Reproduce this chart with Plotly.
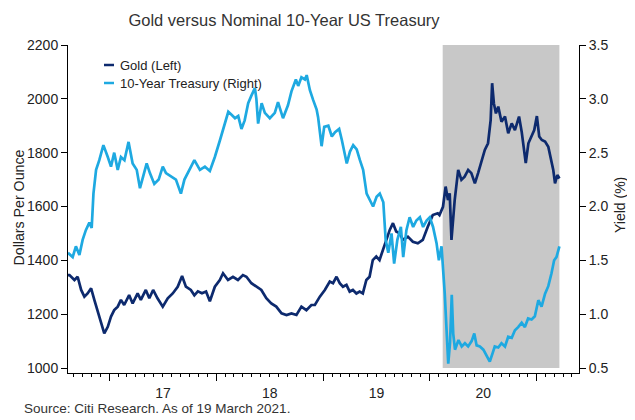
import plotly.graph_objects as go

# ---------------- data ----------------
gold_dates = [
    "2016-08-12", "2016-08-17", "2016-09-03", "2016-09-14", "2016-09-26", "2016-10-07", "2016-10-18",
    "2016-10-30", "2016-11-10", "2016-11-21", "2016-12-03", "2016-12-14", "2016-12-26",
    "2017-01-06", "2017-01-17", "2017-01-29", "2017-02-09", "2017-02-20", "2017-03-09", "2017-03-21",
    "2017-04-07", "2017-04-18", "2017-05-05", "2017-05-17", "2017-05-30", "2017-06-14", "2017-07-02",
    "2017-07-19", "2017-08-05", "2017-08-22", "2017-09-06", "2017-09-19", "2017-10-06", "2017-10-18",
    "2017-10-30", "2017-11-13", "2017-11-27", "2017-12-10", "2017-12-27",
    "2018-01-13", "2018-01-24", "2018-02-10", "2018-02-27", "2018-03-16", "2018-04-02", "2018-04-14",
    "2018-05-01", "2018-05-18", "2018-06-04", "2018-06-21", "2018-07-08", "2018-07-25", "2018-08-12",
    "2018-08-29", "2018-09-15", "2018-10-02", "2018-10-19", "2018-11-05", "2018-11-22", "2018-12-04",
    "2018-12-21",
    "2019-01-07", "2019-01-24", "2019-02-04", "2019-02-16", "2019-02-27", "2019-03-10", "2019-03-22",
    "2019-04-02", "2019-04-13", "2019-04-25", "2019-05-06", "2019-05-17", "2019-05-29", "2019-06-09",
    "2019-06-20", "2019-07-02", "2019-07-13", "2019-07-25", "2019-08-05", "2019-08-17", "2019-08-28",
    "2019-09-08", "2019-09-20", "2019-10-01", "2019-10-18", "2019-11-04", "2019-11-21", "2019-12-08",
    "2019-12-25",
    "2020-01-11", "2020-01-28", "2020-02-03", "2020-02-15", "2020-02-24", "2020-03-03", "2020-03-09",
    "2020-03-15", "2020-03-20", "2020-03-26", "2020-04-07", "2020-04-18", "2020-04-29", "2020-05-11",
    "2020-05-22", "2020-06-03", "2020-06-14", "2020-06-26", "2020-07-07", "2020-07-18", "2020-07-27",
    "2020-08-01", "2020-08-07", "2020-08-14", "2020-08-22", "2020-09-02", "2020-09-14", "2020-09-25",
    "2020-10-07", "2020-10-18", "2020-11-01", "2020-11-10", "2020-11-24", "2020-12-03", "2020-12-14",
    "2020-12-23",
    "2021-01-01", "2021-01-09", "2021-01-18", "2021-01-29", "2021-02-09", "2021-02-18", "2021-02-26",
    "2021-03-04", "2021-03-12", "2021-03-19",
]
gold_values = [
    1345, 1345, 1327, 1339, 1290, 1265, 1277, 1296, 1253, 1215, 1166, 1129, 1153,
    1191, 1215, 1228, 1253, 1234, 1271, 1240, 1277, 1253, 1290, 1259, 1290, 1259, 1228,
    1259, 1277, 1302, 1342, 1302, 1290, 1270, 1285, 1278, 1284, 1248, 1302,
    1327, 1352, 1327, 1339, 1327, 1345, 1339, 1315, 1302, 1290, 1259, 1240, 1228, 1203,
    1197, 1203, 1197, 1228, 1215, 1234, 1234, 1265,
    1290, 1321, 1315, 1339, 1315, 1302, 1309, 1284, 1290, 1277, 1284, 1277, 1327, 1339,
    1401, 1414, 1401, 1438, 1476, 1513, 1538, 1507, 1500, 1476, 1488, 1469, 1463, 1476, 1525,
    1568, 1575, 1568, 1599, 1674, 1624, 1649, 1476, 1562, 1624, 1736, 1699, 1711, 1736,
    1724, 1686, 1724, 1773, 1810, 1835, 1921, 2058, 1983, 1946, 1971, 1915, 1934, 1872,
    1909, 1884, 1934, 1878, 1761, 1835, 1860, 1884,
    1936, 1860, 1847, 1841, 1822, 1773, 1736, 1686, 1717, 1704,
]

tsy_dates = [
    "2016-08-12", "2016-08-28", "2016-09-08", "2016-09-20", "2016-10-01", "2016-10-12", "2016-10-24",
    "2016-11-01", "2016-11-07", "2016-11-16", "2016-11-27", "2016-12-11", "2016-12-26",
    "2017-01-06", "2017-01-17", "2017-01-29", "2017-02-09", "2017-02-21", "2017-03-07", "2017-03-21",
    "2017-04-04", "2017-04-15", "2017-04-26", "2017-05-08", "2017-05-19", "2017-06-03", "2017-06-18",
    "2017-07-02", "2017-07-13", "2017-07-30", "2017-08-16", "2017-09-02", "2017-09-14", "2017-10-01",
    "2017-10-18", "2017-11-06", "2017-11-23", "2017-12-10", "2017-12-27",
    "2018-01-14", "2018-01-31", "2018-02-11", "2018-02-23", "2018-03-06", "2018-03-17", "2018-03-28",
    "2018-04-08", "2018-04-20", "2018-05-01", "2018-05-13", "2018-05-18", "2018-05-24", "2018-06-05",
    "2018-06-16", "2018-07-03", "2018-07-20", "2018-07-31", "2018-08-17", "2018-09-03", "2018-09-15",
    "2018-09-30", "2018-10-08", "2018-10-19", "2018-10-31", "2018-11-06", "2018-11-17", "2018-11-28",
    "2018-12-10", "2018-12-15", "2018-12-27",
    "2019-01-05", "2019-01-19", "2019-01-31", "2019-02-11", "2019-02-25", "2019-03-06", "2019-03-23",
    "2019-04-03", "2019-04-14", "2019-04-26", "2019-05-07", "2019-05-18", "2019-05-30", "2019-06-10",
    "2019-06-21", "2019-07-03", "2019-07-14", "2019-07-26", "2019-08-03", "2019-08-12", "2019-08-23",
    "2019-09-01", "2019-09-12", "2019-09-24", "2019-10-02", "2019-10-13", "2019-10-24", "2019-11-05",
    "2019-11-16", "2019-11-28", "2019-12-09", "2019-12-21",
    "2020-01-01", "2020-01-12", "2020-01-24", "2020-02-01", "2020-02-10", "2020-02-21", "2020-02-27",
    "2020-03-04", "2020-03-10", "2020-03-16", "2020-03-21", "2020-03-27", "2020-04-08", "2020-04-19",
    "2020-04-30", "2020-05-11", "2020-05-23", "2020-06-01", "2020-06-09", "2020-06-20", "2020-07-02",
    "2020-07-13", "2020-07-24", "2020-08-03", "2020-08-10", "2020-08-22", "2020-09-02", "2020-09-14",
    "2020-09-25", "2020-10-07", "2020-10-18", "2020-10-29", "2020-11-10", "2020-11-21", "2020-12-02",
    "2020-12-14", "2020-12-25",
    "2021-01-06", "2021-01-17", "2021-01-29", "2021-02-09", "2021-02-20", "2021-03-01", "2021-03-09",
    "2021-03-19",
]
tsy_values = [
    1.57, 1.53, 1.63, 1.55, 1.69, 1.78, 1.85, 1.80, 2.12, 2.34, 2.43, 2.57, 2.46,
    2.37, 2.50, 2.34, 2.46, 2.43, 2.60, 2.40, 2.34, 2.17, 2.28, 2.40, 2.31, 2.21, 2.25,
    2.37, 2.31, 2.28, 2.25, 2.12, 2.25, 2.34, 2.43, 2.34, 2.37, 2.33, 2.46,
    2.62, 2.77, 2.88, 2.85, 2.82, 2.84, 2.72, 2.80, 2.96, 3.03, 3.10, 3.00, 2.77, 2.96,
    2.87, 2.82, 2.87, 2.97, 2.82, 2.94, 3.07, 3.18, 3.12, 3.20, 3.18, 3.22, 3.08, 2.99,
    2.90, 2.83, 2.56,
    2.74, 2.75, 2.65, 2.69, 2.72, 2.62, 2.40, 2.51, 2.57, 2.53, 2.43, 2.34, 2.12, 2.06,
    2.00, 2.09, 2.12, 2.04, 1.69, 1.57, 1.75, 1.47, 1.69, 1.81, 1.53, 1.78, 1.90, 1.81,
    1.87, 1.90, 1.81, 1.87,
    1.90, 1.81, 1.66, 1.50, 1.63, 1.19, 0.82, 0.54, 0.73, 1.18, 0.82, 0.67, 0.76, 0.70,
    0.73, 0.70, 0.75, 0.82, 0.71, 0.70, 0.67, 0.62, 0.56, 0.64, 0.70, 0.69, 0.73, 0.70,
    0.79, 0.78, 0.85, 0.88, 0.92, 0.88, 0.96, 0.95, 0.98,
    1.13, 1.07, 1.19, 1.26, 1.38, 1.50, 1.53, 1.63,
]

shade_start = "2020-02-14"
shade_end = "2021-03-19"

x_range = ["2016-08-12", "2021-05-25"]
gold_ticks_range = [1000, 2200]
yield_ticks_range = [0.5, 3.5]

title_text = "Gold versus Nominal 10-Year US Treasury"
gold_name = "Gold (Left)"
tsy_name = "10-Year Treasury (Right)"
left_title = "Dollars Per Ounce"
right_title = "Yield (%)"
source_text = "Source: Citi Research. As of 19 March 2021."

GOLD_COLOR = "#0d2a6e"
TSY_COLOR = "#1ea9e1"
SHADE_COLOR = "#c8c8c8"
TEXT_COLOR = "#222222"
FONT = "Liberation Sans, Arial, sans-serif"
LINE_W = 2.7

assert len(gold_dates) == len(gold_values)
assert len(tsy_dates) == len(tsy_values)

# ---------------- layout geometry (page has an 8px body margin) ----------------
W, H = 627, 412
ml, mr, mt, mb = 60, 56, 37, 47
PW, PH = W - ml - mr, H - mt - mb
gap_px = 5  # x axis sits a few pixels below the lowest y tick
gold_span = gold_ticks_range[1] - gold_ticks_range[0]
yld_span = yield_ticks_range[1] - yield_ticks_range[0]
gold_range = [gold_ticks_range[0] - gap_px * gold_span / (PH - gap_px), gold_ticks_range[1]]
yield_range = [yield_ticks_range[0] - gap_px * yld_span / (PH - gap_px), yield_ticks_range[1]]


def px(xf):
    return (xf - ml) / PW


def py(yf):
    return (H - mb - yf) / PH


fig = go.Figure()
fig.add_trace(go.Scatter(
    x=gold_dates, y=gold_values, name=gold_name, mode="lines",
    line=dict(color=GOLD_COLOR, width=LINE_W), yaxis="y", showlegend=False,
))
fig.add_trace(go.Scatter(
    x=tsy_dates, y=tsy_values, name=tsy_name, mode="lines",
    line=dict(color=TSY_COLOR, width=LINE_W), yaxis="y2", showlegend=False,
))

fig.add_shape(type="rect", xref="x", yref="y", x0=shade_start, x1=shade_end,
              y0=gold_ticks_range[0], y1=gold_ticks_range[1],
              fillcolor=SHADE_COLOR, line=dict(width=0), layer="below")

# legend drawn as line samples + text
legend_rows = [(gold_name, GOLD_COLOR, 57), (tsy_name, TSY_COLOR, 75)]
annotations = []
for name, color, yrow in legend_rows:
    fig.add_shape(type="line", xref="paper", yref="paper", x0=px(96), x1=px(106),
                  y0=py(yrow), y1=py(yrow), line=dict(color=color, width=2.5))
    annotations.append(dict(text=name, xref="paper", yref="paper", x=px(110), y=py(yrow),
                            xanchor="left", yanchor="middle", showarrow=False,
                            font=dict(size=13, color=TEXT_COLOR)))

annotations += [
    dict(text=left_title, xref="paper", yref="paper", x=px(10.5), y=py(200), textangle=-90,
         xanchor="center", yanchor="middle", showarrow=False, font=dict(size=14.2, color=TEXT_COLOR)),
    dict(text=right_title, xref="paper", yref="paper", x=px(612), y=py(197), textangle=-90,
         xanchor="center", yanchor="middle", showarrow=False, font=dict(size=14, color=TEXT_COLOR)),
    dict(text=source_text, xref="paper", yref="paper", x=px(14), y=py(400),
         xanchor="left", yanchor="middle", showarrow=False, font=dict(size=13.5, color="#333333")),
]

axis_common = dict(showgrid=False, zeroline=False, showline=True, linecolor="black",
                   linewidth=1, ticks="outside", tickcolor="black", tickwidth=1,
                   tickfont=dict(size=14, color=TEXT_COLOR))

fig.update_layout(
    width=W, height=H,
    margin=dict(l=ml, r=mr, t=mt, b=mb, autoexpand=False),
    paper_bgcolor="white", plot_bgcolor="white",
    font=dict(family=FONT, size=14, color=TEXT_COLOR),
    title=dict(text=title_text, x=276 / W, xanchor="center", y=1 - 12 / H, yanchor="middle",
               font=dict(size=16.5, color="#333333")),
    xaxis=dict(type="date", range=x_range, tick0="2017-01-01", dtick="M12",
               ticklabelmode="period", tickformat="%y", ticklen=7,
               minor=dict(ticks="outside", ticklen=3, dtick="M1", tick0="2017-01-01",
                          tickcolor="black", showgrid=False),
               **axis_common),
    yaxis=dict(range=gold_range, tickvals=list(range(1000, 2201, 200)), ticklen=6,
               **axis_common),
    yaxis2=dict(range=yield_range, tickvals=[0.5, 1.0, 1.5, 2.0, 2.5, 3.0, 3.5],
                tickformat=".1f", ticklen=6, overlaying="y", side="right",
                **axis_common),
    showlegend=False,
    annotations=annotations,
)

fig.write_html("out.html")
